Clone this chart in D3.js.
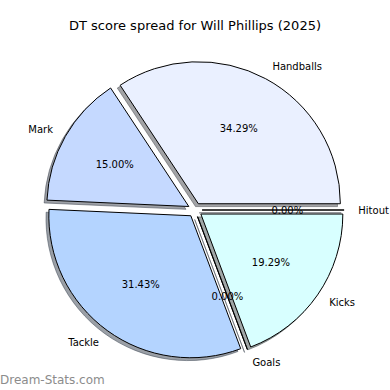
<!DOCTYPE html>
<html>
<head>
<meta charset="utf-8">
<script src="https://cdn.jsdelivr.net/npm/d3@7"></script>
<style>
  body { margin: 0; background: #fff; }
  svg { display: block; font-family: "DejaVu Sans", sans-serif; }
</style>
</head>
<body>
<svg width="390" height="390"></svg>
<script>
// DATA - DT points per stat, in the order matplotlib drew them (ccw from 3 o'clock)
const categories = ["Handballs", "Mark", "Tackle", "Goals", "Kicks", "Hitout"];
const points = [48, 21, 44, 0, 27, 0];
const colours = ["#eaf0ff", "#c5d9ff", "#b4d4ff", "#c8e0ff", "#d8ffff", "#dde8ff"];
const titleText = "DT score spread for Will Phillips (2025)";

// SETUP
const svg = d3.select("svg");
const cx = 195, cy = 210;
const radius = 142;
const explode = 0.05 * radius;
const shadowOff = 0.02 * radius;

const total = d3.sum(points);
const fmtPct = d3.format(".2f");

// matplotlib goes counterclockwise from 3 o'clock, d3 angles are clockwise from 12
const pie = d3.pie()
  .sort(null)
  .value((d) => d)
  .startAngle(Math.PI / 2)
  .endAngle(Math.PI / 2 - 2 * Math.PI);

const arcs = pie(points);
const arc = d3.arc().innerRadius(0).outerRadius(radius);

// unit vector of the middle of a slice
const dir = (a) => {
  const m = (a.startAngle + a.endAngle) / 2;
  return [Math.sin(m), -Math.cos(m)];
};

// shadow colour = 30% of the face colour, half transparent
function shade(c) {
  const r = d3.rgb(c);
  return d3.rgb(r.r * 0.3, r.g * 0.3, r.b * 0.3).formatHex();
}

const chart = svg.append("g").attr("transform", `translate(${cx},${cy})`);

// shadows first, all behind the wedges
chart.selectAll("path.shadow")
  .data(arcs)
  .enter()
  .append("path")
  .attr("class", "shadow")
  .attr("transform", (d) => {
    const [ux, uy] = dir(d);
    return `translate(${ux * explode - shadowOff},${uy * explode + shadowOff})`;
  })
  .attr("d", arc)
  .attr("fill", (d, i) => shade(colours[i]))
  .attr("fill-opacity", 0.5)
  .attr("stroke", (d, i) => shade(colours[i]))
  .attr("stroke-opacity", 0.5)
  .attr("stroke-width", 1);

// wedges
chart.selectAll("path.wedge")
  .data(arcs)
  .enter()
  .append("path")
  .attr("class", "wedge")
  .attr("transform", (d) => {
    const [ux, uy] = dir(d);
    return `translate(${ux * explode},${uy * explode})`;
  })
  .attr("d", arc)
  .attr("fill", (d, i) => colours[i])
  .attr("stroke", "#000")
  .attr("stroke-width", 1);

// outer labels (labeldistance 1.1)
chart.selectAll("text.label")
  .data(arcs)
  .enter()
  .append("text")
  .attr("class", "label")
  .attr("x", (d) => dir(d)[0] * (explode + 1.1 * radius))
  .attr("y", (d) => dir(d)[1] * (explode + 1.1 * radius))
  .attr("dy", "0.35em")
  .attr("text-anchor", (d) => (dir(d)[0] > 0 ? "start" : "end"))
  .attr("font-size", 10)
  .attr("fill", "#000")
  .text((d, i) => categories[i]);

// percentages (pctdistance 0.6)
chart.selectAll("text.pct")
  .data(arcs)
  .enter()
  .append("text")
  .attr("class", "pct")
  .attr("x", (d) => dir(d)[0] * (explode + 0.6 * radius))
  .attr("y", (d) => dir(d)[1] * (explode + 0.6 * radius))
  .attr("dy", "0.35em")
  .attr("text-anchor", "middle")
  .attr("font-size", 10)
  .attr("fill", "#000")
  .text((d) => fmtPct((d.value / total) * 100) + "%");

// title
svg.append("text")
  .attr("x", 195)
  .attr("y", 30)
  .attr("text-anchor", "middle")
  .attr("font-size", 13)
  .attr("fill", "#000")
  .text(titleText);

// watermark
svg.append("text")
  .attr("x", 0)
  .attr("y", 384)
  .attr("font-size", 12)
  .attr("fill", "#8c8c8c")
  .text("Dream-Stats.com");
</script>
</body>
</html>
